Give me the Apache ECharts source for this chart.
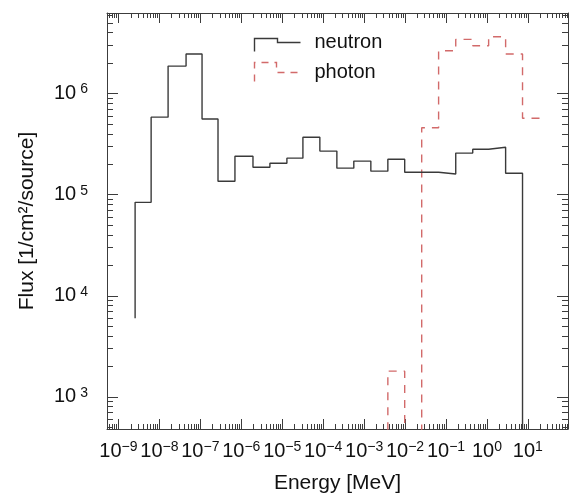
<!DOCTYPE html>
<html>
<head>
<meta charset="utf-8">
<script src="https://cdn.jsdelivr.net/npm/echarts@6/dist/echarts.min.js"></script>
<style>
  html, body { margin: 0; padding: 0; background: #fff; }
  #main { width: 571px; height: 500px; }
</style>
</head>
<body>
<div id="main"></div>
<script>
// bin edges [MeV] and flux per bin
const neutronEdges = [2.55e-9, 6.28e-9, 1.63e-8, 4.48e-8, 1.10e-7, 2.70e-7, 7.0e-7, 1.93e-6,
    5.0e-6, 1.30e-5, 3.2e-5, 8.3e-5, 2.16e-4, 5.6e-4, 1.46e-3, 3.8e-3, 9.8e-3, 2.55e-2,
    6.6e-2, 0.173, 0.45, 1.1, 2.86, 7.4];
const neutronFlux = [8.4e4, 5.85e5, 1.87e6, 2.46e6, 5.6e5, 1.36e5, 2.4e5, 1.87e5, 2.05e5,
    2.3e5, 3.7e5, 2.7e5, 1.83e5, 2.15e5, 1.71e5, 2.24e5, 1.67e5, 1.67e5, 1.6e5, 2.58e5,
    2.82e5, 2.95e5, 1.63e5];
const neutronStart = 6.0e3;   // histogram line starts here at the first edge
const neutronEnd = 0;         // drops off the bottom after the last edge

const photonEdges = [3.8e-3, 9.8e-3, 2.55e-2, 6.6e-2, 0.173, 0.45, 1.1, 2.86, 7.4, 19.3];
const photonFlux = [1.8e3, 0, 4.6e5, 2.65e6, 3.44e6, 2.97e6, 3.65e6, 2.46e6, 5.7e5];
const photonStart = 0;

// axis ranges (log10) and tick labels
const xRange = [-9.28, 1.98];
const yRange = [2.683, 6.797];
const xTickExps = [-9, -8, -7, -6, -5, -4, -3, -2, -1, 0, 1];
const yTickExps = [3, 4, 5, 6];
const minorMultiples = [2, 3, 4, 5, 6, 7, 8, 9];

const FONT = "'Liberation Sans', Arial, Helvetica, sans-serif";
const BELOW = 0; // log10 value used for empty bins, sits under the axis and gets clipped

function lg(v) {
    return v > 0 ? Math.log10(v) : BELOW;
}

// step points: [edge_i, value_i] ... with step 'end'
function histPoints(edges, vals, startVal, endVal) {
    const pts = [];
    if (startVal != null) pts.push([lg(edges[0]), lg(startVal)]);
    for (let i = 0; i < vals.length; i++) {
        pts.push([lg(edges[i]), lg(vals[i])]);
    }
    pts.push([lg(edges[vals.length]), lg(vals[vals.length - 1])]);
    if (endVal != null) pts.push([lg(edges[vals.length]), lg(endVal)]);
    return pts;
}

function minorTicks(range) {
    const out = [];
    for (let e = Math.floor(range[0]); e <= Math.ceil(range[1]); e++) {
        minorMultiples.forEach(k => {
            const v = e + Math.log10(k);
            if (v > range[0] && v < range[1]) out.push(v);
        });
    }
    return out;
}

function expLabel(v) {
    const e = Math.round(v);
    return '{b|10}{s|' + (e < 0 ? '\u2212' + (-e) : e) + '}';
}

const frameColor = '#3c3c3c';

function xAxisOf(position, major, withLabels) {
    return {
        type: 'value',
        position: position,
        min: xRange[0],
        max: xRange[1],
        splitLine: { show: false },
        axisLine: { show: major, onZero: false, lineStyle: { color: frameColor, width: 1 } },
        axisTick: {
            show: true,
            inside: true,
            length: major ? 10 : 5,
            customValues: major ? xTickExps : minorTicks(xRange),
            lineStyle: { color: frameColor, width: 1 },
        },
        axisLabel: withLabels ? {
            show: true,
            customValues: xTickExps,
            margin: 11,
            formatter: expLabel,
            rich: {
                b: { fontFamily: FONT, fontSize: 20, color: '#111', lineHeight: 22 },
                s: { fontFamily: FONT, fontSize: 14, color: '#111', lineHeight: 10, verticalAlign: 'top' },
            },
        } : { show: false },
        name: withLabels ? 'Energy [MeV]' : '',
        nameLocation: 'middle',
        nameGap: 44,
        nameTextStyle: { fontFamily: FONT, fontSize: 21, color: '#111' },
    };
}

function yAxisOf(position, major, withLabels) {
    return {
        type: 'value',
        position: position,
        min: yRange[0],
        max: yRange[1],
        splitLine: { show: false },
        axisLine: { show: major, onZero: false, lineStyle: { color: frameColor, width: 1 } },
        axisTick: {
            show: true,
            inside: true,
            length: major ? 11 : 6,
            customValues: major ? yTickExps : minorTicks(yRange),
            lineStyle: { color: frameColor, width: 1 },
        },
        axisLabel: withLabels ? {
            show: true,
            customValues: yTickExps,
            margin: 19,
            formatter: expLabel,
            rich: {
                b: { fontFamily: FONT, fontSize: 20, color: '#111', lineHeight: 22 },
                s: { fontFamily: FONT, fontSize: 14, color: '#111', lineHeight: 8, verticalAlign: 'top', padding: [0, 0, 0, 4] },
            },
        } : { show: false },
        name: withLabels ? 'Flux [1/cm\u00b2/source]' : '',
        nameLocation: 'middle',
        nameGap: 69,
        nameTextStyle: { fontFamily: FONT, fontSize: 21, color: '#111' },
    };
}

const chart = echarts.init(document.getElementById('main'), null, { renderer: 'canvas' });

chart.setOption({
    animation: false,
    backgroundColor: '#fff',
    grid: { left: 107, top: 13, width: 461, height: 416, containLabel: false },
    legend: {
        orient: 'vertical',
        left: 247,
        top: 25,
        itemWidth: 55,
        itemHeight: 20,
        itemGap: 5,
        selectedMode: false,
        textStyle: { fontFamily: FONT, fontSize: 20, color: '#111' },
        data: [
            {
                name: 'neutron',
                icon: 'path://M0,0 M55,20 M0,19 L0,6 L23,6 L23,10 L46,10',
                itemStyle: { color: 'none', borderColor: '#3a3a3a', borderWidth: 1.4 },
            },
            {
                name: 'photon',
                icon: 'path://M0,0 M55,20 M0,19 L0,0 L22,0 L22,10 L46,10',
                itemStyle: { color: 'none', borderColor: '#d26a6a', borderWidth: 1.4, borderType: [7, 6] },
            },
        ],
    },
    xAxis: [
        xAxisOf('bottom', true, true),
        xAxisOf('bottom', false, false),
        xAxisOf('top', true, false),
        xAxisOf('top', false, false),
    ],
    yAxis: [
        yAxisOf('left', true, true),
        yAxisOf('left', false, false),
        yAxisOf('right', true, false),
        yAxisOf('right', false, false),
    ],
    series: [
        {
            name: 'neutron',
            type: 'line',
            step: 'end',
            symbol: 'none',
            clip: true,
            data: histPoints(neutronEdges, neutronFlux, neutronStart, neutronEnd),
            lineStyle: { color: '#3a3a3a', width: 1.4 },
            itemStyle: { color: '#3a3a3a' },
            z: 3,
        },
        {
            name: 'photon',
            type: 'line',
            step: 'end',
            symbol: 'none',
            clip: true,
            data: histPoints(photonEdges, photonFlux, photonStart, null),
            lineStyle: { color: '#d26a6a', width: 1.4, type: [8, 7] },
            itemStyle: { color: '#d26a6a' },
            z: 2,
        },
    ],
});
</script>
</body>
</html>
